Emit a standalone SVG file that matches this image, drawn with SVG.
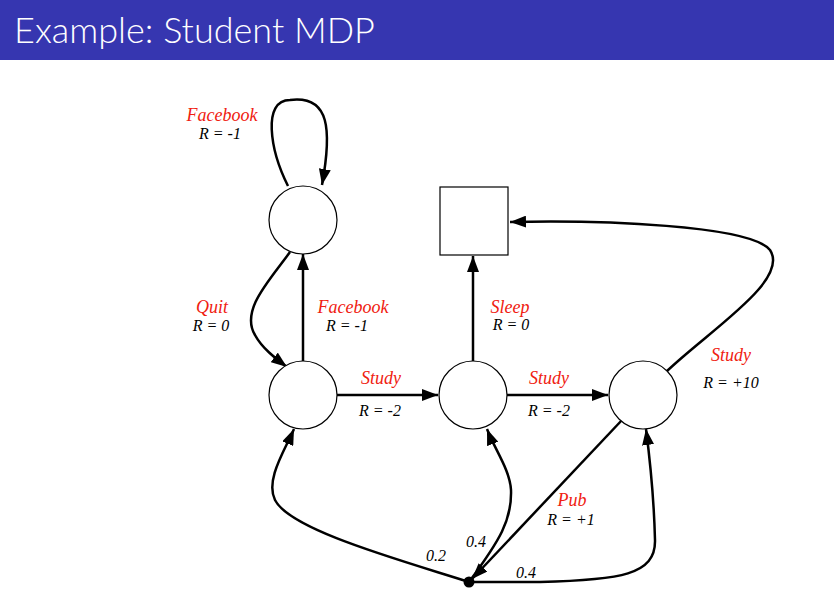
<svg xmlns="http://www.w3.org/2000/svg" width="834" height="616" viewBox="0 0 834 616">
<style>
.n{fill:#fff;stroke:#000;stroke-width:1.2}
.e{fill:none;stroke:#000;stroke-width:2.5}
.a{font-family:"Liberation Serif","DejaVu Serif",serif;font-style:italic;font-size:18px;fill:#f02010;text-anchor:middle}
.r{font-family:"Liberation Serif","DejaVu Serif",serif;font-style:italic;font-size:16px;fill:#000;text-anchor:middle}
</style>
<defs>
<marker id="h" viewBox="0 0 16 12" refX="16" refY="6" markerWidth="16" markerHeight="12" markerUnits="userSpaceOnUse" orient="auto"><path d="M0,0 L16,6 L0,12 z" fill="#000"/></marker></defs>
<rect x="0" y="0" width="834" height="60" fill="#3636b0"/>
<text x="14" y="43" font-family="Lato,'Open Sans',sans-serif" font-weight="300" font-size="36" fill="#fff">Example: Student MDP</text>
<g id="edges">
<path class="e" marker-end="url(#h)" d="M288,186 C270,150 262,100 290,100 C330,95 332,130 322,185"/>
<path class="e" marker-end="url(#h)" d="M290,252 C270,280 240,310 255,335 C262,348 275,358 287,367"/>
<path class="e" marker-end="url(#h)" d="M303,361 L303,254"/>
<path class="e" marker-end="url(#h)" d="M337,395 L438,395"/>
<path class="e" marker-end="url(#h)" d="M507,395 L608,395"/>
<path class="e" marker-end="url(#h)" d="M473,361 L473,256"/>
<path class="e" marker-end="url(#h)" d="M667,371 C710,330 790,280 770,250 C750,225 600,220 510,222"/>
<path class="e" marker-end="url(#h)" d="M622,420 L472,579"/>
<path class="e" marker-end="url(#h)" d="M469,582 C400,560 290,530 275,500 C265,480 285,450 294,429"/>
<path class="e" marker-end="url(#h)" d="M469,582 C500,540 512,520 511,490 C510,470 495,450 487,429"/>
<path class="e" marker-end="url(#h)" d="M469,582 L540,582 C620,580 656,575 655,540 C654,500 650,460 646,429"/>
</g>
<g id="s1"><circle class="n" cx="303" cy="220" r="34"/></g>
<g id="s2"><circle class="n" cx="303" cy="395" r="34"/></g>
<g id="s3"><circle class="n" cx="473" cy="395" r="34"/></g>
<g id="s4"><circle class="n" cx="643" cy="395" r="34"/></g>
<g id="sleep"><rect class="n" x="440" y="187" width="68" height="68"/></g>
<g id="pub"><circle cx="469" cy="582" r="5.5" fill="#000"/></g>
<g id="labels">
<text class="a" x="222" y="121">Facebook</text><text class="r" x="220" y="139">R = -1</text>
<text class="a" x="212" y="313">Quit</text><text class="r" x="211" y="331">R = 0</text>
<text class="a" x="353" y="313">Facebook</text><text class="r" x="347" y="331">R = -1</text>
<text class="a" x="381" y="384">Study</text><text class="r" x="380" y="416">R = -2</text>
<text class="a" x="549" y="384">Study</text><text class="r" x="549" y="416">R = -2</text>
<text class="a" x="510" y="313">Sleep</text><text class="r" x="511" y="330">R = 0</text>
<text class="a" x="731" y="361">Study</text><text class="r" x="731" y="388">R = +10</text>
<text class="a" x="572" y="506">Pub</text><text class="r" x="571" y="525">R = +1</text>
<text class="r" x="436" y="561">0.2</text>
<text class="r" x="476" y="547">0.4</text>
<text class="r" x="526" y="578">0.4</text>
</g>
</svg>
